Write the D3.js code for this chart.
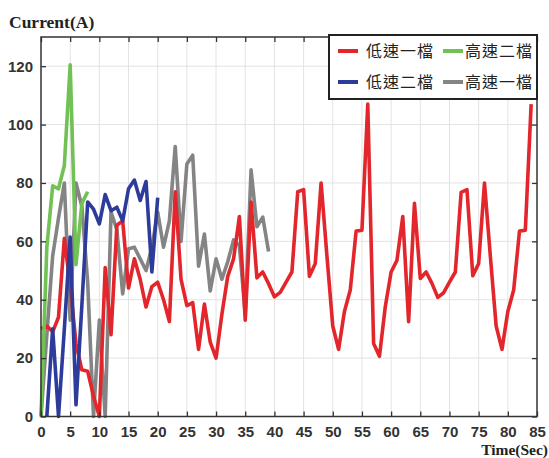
<!DOCTYPE html>
<html><head><meta charset="utf-8">
<script src="https://cdn.jsdelivr.net/npm/d3@7/dist/d3.min.js"></script>
<style>
body{margin:0;background:#fff;}
svg{display:block;}
</style></head>
<body><svg id="c" width="549" height="458"></svg>
<script>
// ---- data ----
const xTicks = [0,5,10,15,20,25,30,35,40,45,50,55,60,65,70,75,80,85];
const yTicks = [0,20,40,60,80,100,120];
const seriesNames = ["低速一檔","高速二檔","低速二檔","高速一檔"];
const seriesColors = ["#e2262b","#72c154","#2d3c9b","#848484"];

const redT = d3.range(0,85);
const redV = [30,31,29,34,61,45,25,16,15.5,7,0,51,28,65.5,67,44,54,47,37.5,44.5,
  46,40,32.5,77,47,38,39,23,38.5,25.5,20,35,48,54,68.5,33,73.5,47.5,49.5,45.5,
  41,42.5,46,49.5,77,77.7,48,52.4,80,55,31,23,36,43.3,63.5,63.8,107,25,20.6,37.6,
  49.5,53.5,68.5,32.5,73,47.3,49.5,45.6,40.8,42.4,46,49.5,76.8,77.7,48.2,52.4,80,55,31,23,
  36,43.3,63.5,63.8,107];

const grayT = d3.range(0,40);
const grayV = [0,28,55,68,80,33,80,72,46,0,33,0,70,64,42,57.5,58,54,50,58,
  70,58,67,92.5,60,86.5,89.5,51.5,62.5,43,54,47,53,60.5,58.5,35,84.5,65,68.3,56.5];

const blueT = d3.range(1,21);
const blueV = [0,30,0,30,61.5,4,38,73.5,71,66,76,70.5,71.7,67,78,81,74,80.5,49.5,75];

const greenT = d3.range(0,9);
const greenV = [0,58,79,78,86,120.5,52,73,77];

// ---- chart ----
const L=41, R=537, T=37, B=416.5;
const svg = d3.select("#c");
const x = d3.scaleLinear().domain([0,85]).range([L,R]);
const y = d3.scaleLinear().domain([0,130]).range([B,T]);

// grid
const g = svg.append("g");
g.selectAll(".vg").data(xTicks.slice(1,-1)).enter().append("line")
  .attr("x1",d=>x(d)).attr("x2",d=>x(d)).attr("y1",T).attr("y2",B)
  .attr("stroke","#e3e3e3").attr("stroke-width",1);
g.selectAll(".hg").data(yTicks.slice(1)).enter().append("line")
  .attr("y1",d=>y(d)).attr("y2",d=>y(d)).attr("x1",L).attr("x2",R)
  .attr("stroke","#e3e3e3").attr("stroke-width",1);

// lines
const lineGen = d3.line().x(d=>x(d[0])).y(d=>y(d[1]));
const series = [
  {t:grayT, v:grayV, c:seriesColors[3]},
  {t:redT, v:redV, c:seriesColors[0]},
  {t:greenT, v:greenV, c:seriesColors[1]},
  {t:blueT, v:blueV, c:seriesColors[2]},
];
series.forEach(s=>{
  svg.append("path").datum(s.t.map((t,i)=>[t,s.v[i]]))
    .attr("d",lineGen).attr("fill","none").attr("stroke",s.c)
    .attr("stroke-width",3.6).attr("stroke-linejoin","round");
});

// axes
const tickFont = "bold 15px 'Liberation Sans', Arial, sans-serif";
function styleAxis(sel, showText){
  sel.select(".domain").remove();
  sel.selectAll(".tick line").attr("stroke","#333").attr("stroke-width",1.3);
  sel.selectAll(".tick text").style("font",tickFont).attr("fill","#333");
  if(!showText) sel.selectAll(".tick text").remove();
}
const xb = svg.append("g").attr("transform",`translate(0,${B})`)
  .call(d3.axisBottom(x).tickValues(xTicks).tickSize(-5).tickPadding(10));
styleAxis(xb,true);
xb.selectAll(".tick text").attr("dy","0.71em").attr("y",10);
const xt = svg.append("g").attr("transform",`translate(0,${T})`)
  .call(d3.axisTop(x).tickValues(xTicks).tickSize(-5));
styleAxis(xt,false);
const yl = svg.append("g").attr("transform",`translate(${L},0)`)
  .call(d3.axisLeft(y).tickValues(yTicks).tickSize(-5).tickPadding(8));
styleAxis(yl,true);
const yr = svg.append("g").attr("transform",`translate(${R},0)`)
  .call(d3.axisRight(y).tickValues(yTicks).tickSize(-5));
styleAxis(yr,false);

// frame
svg.append("rect").attr("x",L).attr("y",T).attr("width",R-L).attr("height",B-T)
  .attr("fill","none").attr("stroke","#333").attr("stroke-width",1.5);

// titles
svg.append("text").attr("x",9).attr("y",28).text("Current(A)")
  .style("font","bold 17.5px 'Liberation Serif', 'Times New Roman', serif").attr("fill","#222");
svg.append("text").attr("x",548).attr("y",454.5).attr("text-anchor","end").text("Time(Sec)")
  .style("font","bold 15.5px 'Liberation Serif', 'Times New Roman', serif").attr("fill","#222");

// legend
const lg = svg.append("g");
lg.append("rect").attr("x",329).attr("y",35).attr("width",208).attr("height",64)
  .attr("fill","#fff").attr("stroke","#222").attr("stroke-width",2);
const legendPos = [[338,51],[443,51],[338,82],[443,82]];
seriesNames.forEach((n,i)=>{
  const [lx,ly]=legendPos[i];
  lg.append("line").attr("x1",lx).attr("x2",lx+20).attr("y1",ly).attr("y2",ly)
    .attr("stroke",seriesColors[i]).attr("stroke-width",4);
  lg.append("text").attr("x",lx+(i%2===0?28:22)).attr("y",ly).attr("dy","0.35em").text(n)
    .style("font","16px 'Noto Sans CJK TC', sans-serif").style("letter-spacing","1px").attr("fill","#222");
});
</script></body></html>
